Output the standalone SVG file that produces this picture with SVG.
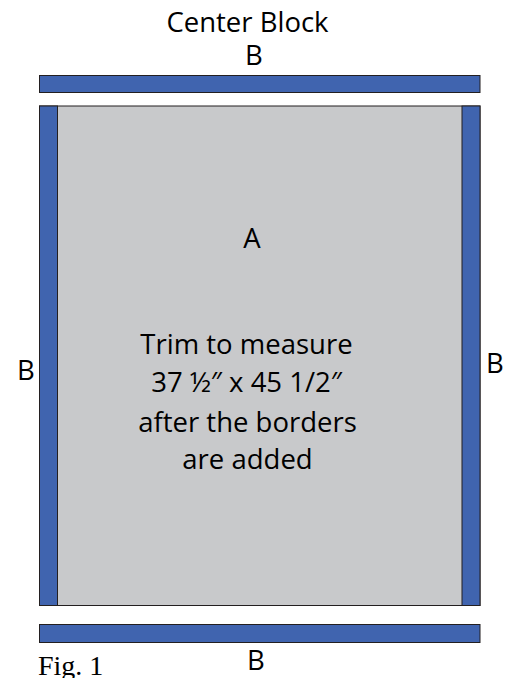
<svg xmlns="http://www.w3.org/2000/svg" width="512" height="678" viewBox="0 0 512 678">
<style>
.blue{fill:#4064af;stroke:#231f20;stroke-width:1}
.gray{fill:#c8c9cb;stroke:#231f20;stroke-width:1}
.t{font-family:"Open Sans","Liberation Sans",sans-serif;fill:#000;text-anchor:middle;font-size:27.5px}
.fig{font-family:"Liberation Serif",serif;font-size:28px;fill:#000}
</style>
<rect width="512" height="678" fill="#fff"/>
<g id="title"><text class="t" x="247.5" y="32">Center Block</text></g>
<g id="top-border"><rect class="blue" x="39.5" y="75.5" width="440.5" height="17"/><text class="t" x="254" y="65">B</text></g>
<g id="center-block">
<rect class="gray" x="39.5" y="106" width="440.5" height="499.5"/>
<text class="t" x="252" y="248">A</text>
<text class="t" x="246.5" y="354">Trim to measure</text>
<text class="t" x="246.5" y="392">37 ½″ x 45 1/2″</text>
<text class="t" x="247.5" y="432">after the borders</text>
<text class="t" x="247.5" y="469">are added</text>
</g>
<g id="left-border"><rect class="blue" x="39.5" y="106" width="18" height="499.5"/><text class="t" x="26" y="380">B</text></g>
<g id="right-border"><rect class="blue" x="462" y="106" width="18" height="499.5"/><text class="t" x="495" y="373">B</text></g>
<g id="bottom-border"><rect class="blue" x="39.5" y="624.5" width="440.5" height="18"/><text class="t" x="256" y="670">B</text></g>
<g id="caption"><text class="fig" x="38" y="675">Fig. 1</text></g>
<g id="connectors"/>
</svg>
